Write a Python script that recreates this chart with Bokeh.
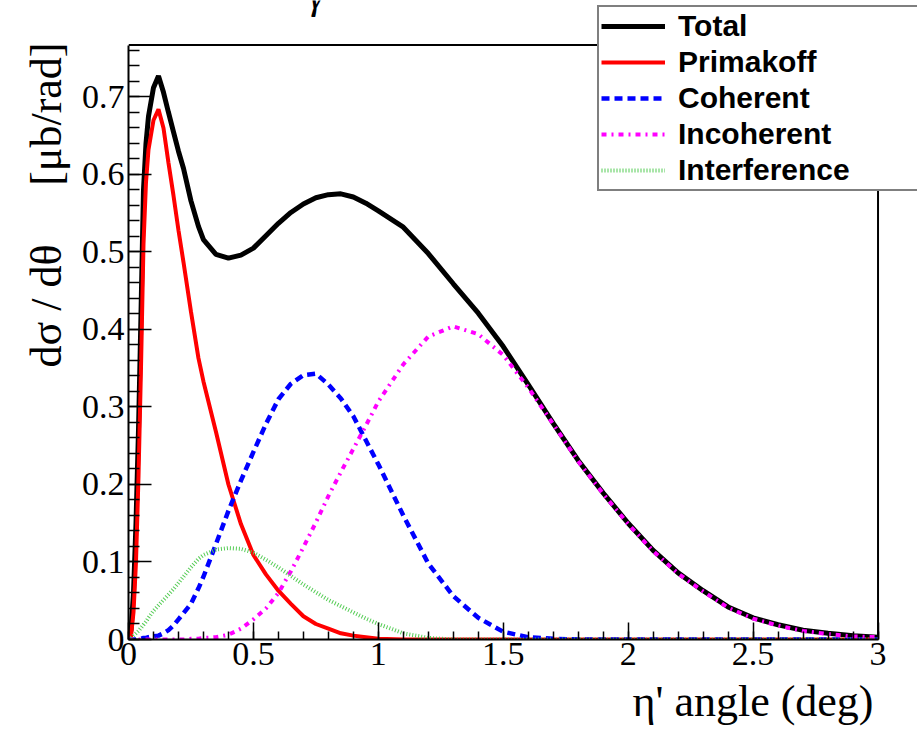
from bokeh.plotting import figure
from bokeh.models import (Range1d, SingleIntervalTicker, CustomJSTickFormatter,
                          Label, Legend, LegendItem, Title)
from bokeh.embed import file_html
from bokeh.resources import INLINE

# ---------------- data ----------------
angle_deg = [0, 0.01, 0.02, 0.03, 0.04, 0.05, 0.06, 0.07, 0.08, 0.10, 0.12, 0.14,
             0.16, 0.18, 0.20, 0.22, 0.25, 0.28, 0.30, 0.35, 0.40, 0.45, 0.50,
             0.55, 0.60, 0.65, 0.70, 0.75, 0.80, 0.85, 0.90, 0.95, 1.00, 1.1,
             1.2, 1.3, 1.4, 1.5, 1.6, 1.7, 1.8, 1.9, 2.0, 2.1, 2.2, 2.3, 2.4,
             2.5, 2.6, 2.7, 2.8, 2.9, 3.0]

total = [0, 0.012, 0.06, 0.15, 0.27, 0.42, 0.58, 0.64, 0.675, 0.712, 0.727, 0.706,
         0.680, 0.655, 0.630, 0.608, 0.566, 0.533, 0.516, 0.497, 0.492, 0.496, 0.505,
         0.521, 0.537, 0.551, 0.562, 0.570, 0.574, 0.575, 0.571, 0.563, 0.553, 0.532,
         0.498, 0.459, 0.421, 0.378, 0.329, 0.279, 0.231, 0.189, 0.150, 0.115, 0.086,
         0.063, 0.042, 0.028, 0.019, 0.012, 0.008, 0.005, 0.003]

primakoff = [0, 0.004, 0.035, 0.10, 0.21, 0.35, 0.51, 0.59, 0.632, 0.670, 0.684, 0.660,
             0.615, 0.573, 0.528, 0.487, 0.423, 0.363, 0.333, 0.268, 0.200, 0.149, 0.109,
             0.084, 0.063, 0.046, 0.030, 0.020, 0.014, 0.008, 0.005, 0.003, 0.001, 0,
             0, 0, 0, 0, 0, 0, 0, 0, 0, 0, 0, 0, 0,
             0, 0, 0, 0, 0, 0]

coherent = [0, 0, 0, 0, 0.001, 0.001, 0.002, 0.002, 0.003, 0.004, 0.005, 0.008,
            0.012, 0.018, 0.026, 0.034, 0.046, 0.066, 0.081, 0.123, 0.166, 0.205, 0.242,
            0.278, 0.310, 0.330, 0.341, 0.343, 0.329, 0.311, 0.288, 0.257, 0.226, 0.160,
            0.098, 0.056, 0.028, 0.010, 0.003, 0.001, 0, 0, 0, 0, 0, 0, 0,
            0, 0, 0, 0, 0, 0]

incoherent = [0, 0, 0, 0, 0, 0, 0, 0, 0, 0, 0, 0,
              0, 0, 0, 0, 0.001, 0.001, 0.002, 0.003, 0.006, 0.014, 0.026,
              0.040, 0.060, 0.088, 0.119, 0.151, 0.185, 0.216, 0.246, 0.276, 0.307, 0.355,
              0.391, 0.404, 0.394, 0.367, 0.325, 0.278, 0.230, 0.188, 0.149, 0.114, 0.085,
              0.062, 0.041, 0.027, 0.018, 0.011, 0.007, 0.004, 0.003]

interference = [0, 0.002, 0.005, 0.008, 0.011, 0.015, 0.019, 0.023, 0.028, 0.037, 0.044, 0.051,
                0.058, 0.065, 0.073, 0.081, 0.093, 0.104, 0.109, 0.116, 0.118, 0.117, 0.112,
                0.103, 0.093, 0.082, 0.071, 0.061, 0.051, 0.043, 0.035, 0.027, 0.020, 0.008,
                0.002, 0, 0, 0, 0, 0, 0, 0, 0, 0, 0, 0, 0,
                0, 0, 0, 0, 0, 0]

series_names = ["Total", "Primakoff", "Coherent", "Incoherent", "Interference"]
x_label = "\u03b7' angle (deg)"
y_label = "d\u03c3 / d\u03b8\u2003\u2004[\u03bcb/rad]"
title_fragment = "\u03b3"

for s in (total, primakoff, coherent, incoherent, interference):
    assert len(s) == len(angle_deg)

# axis extents of the drawn frame
X_MIN, X_MAX = 0, 3
Y_MIN, Y_MAX = 0, 0.767

# ---------------- figure ----------------
SERIF = "Liberation Serif"
p = figure(width=917, height=734, output_backend="svg", toolbar_location=None,
           x_range=Range1d(0, 3.158), y_range=Range1d(0, 0.8245),
           min_border_left=128, min_border_right=0, min_border_top=0,
           min_border_bottom=95)
p.background_fill_color = "white"
p.border_fill_color = "white"
p.outline_line_color = None
p.grid.visible = False

fmt = CustomJSTickFormatter(code="return Number(tick.toFixed(2)).toString();")
p.xaxis.ticker = SingleIntervalTicker(interval=0.5, num_minor_ticks=5)
p.yaxis.ticker = SingleIntervalTicker(interval=0.1, num_minor_ticks=5)
p.xaxis.bounds = (X_MIN, X_MAX)
p.yaxis.bounds = (Y_MIN, Y_MAX)
for ax in (p.xaxis, p.yaxis):
    ax.formatter = fmt
    ax.major_tick_out = 0
    ax.minor_tick_out = 0
    ax.axis_line_color = "black"
    ax.axis_line_width = 2
    ax.major_tick_line_color = "black"
    ax.minor_tick_line_color = "black"
    ax.major_tick_line_width = 1.5
    ax.minor_tick_line_width = 1.5
    ax.major_label_text_font = SERIF
    ax.major_label_text_font_size = "34px"
    ax.major_label_text_color = "black"
p.xaxis.major_tick_in = 17
p.xaxis.minor_tick_in = 8
p.yaxis.major_tick_in = 23
p.yaxis.minor_tick_in = 11
p.xaxis.major_label_standoff = 3
p.yaxis.major_label_standoff = 4

# axis titles, aligned to the end of the drawn frame
p.add_layout(Title(text=x_label, align="right", offset=44, standoff=15,
                   text_font=SERIF, text_font_size="44px",
                   text_font_style="normal", text_color="black"), "below")
p.add_layout(Title(text=y_label, align="right", offset=42, standoff=16,
                   text_font=SERIF, text_font_size="44px",
                   text_font_style="normal", text_color="black"), "left")

# frame top and right edges
p.segment(x0=[X_MIN, X_MAX], y0=[Y_MAX, Y_MIN], x1=[X_MAX, X_MAX], y1=[Y_MAX, Y_MAX],
          line_color="black", line_width=2)

r_tot = p.line(angle_deg, total, line_color="black", line_width=5)
r_pri = p.line(angle_deg, primakoff, line_color="#ff0000", line_width=4)
r_coh = p.line(angle_deg, coherent, line_color="#0000ff", line_width=4.5,
               line_dash="8 5")
r_inc = p.line(angle_deg, incoherent, line_color="#ff00ff", line_width=4,
               line_dash="5 5 2 5")
r_int = p.line(angle_deg, interference, line_color="#55cc55", line_width=4,
               line_dash="1 2")

legend = Legend(items=[LegendItem(label=n, renderers=[r]) for n, r in
                       zip(series_names, [r_tot, r_pri, r_coh, r_inc, r_int])],
                location=(469, 448))
legend.label_text_font = "Liberation Sans"
legend.label_text_font_style = "bold"
legend.label_text_font_size = "30px"
legend.label_text_color = "black"
legend.label_height = 30
legend.glyph_height = 30
legend.glyph_width = 64
legend.label_standoff = 13
legend.label_width = 270
legend.spacing = 2
legend.padding = 2
legend.margin = 0
legend.border_line_color = "black"
legend.border_line_width = 2
legend.background_fill_color = "white"
legend.background_fill_alpha = 1
p.add_layout(legend, "center")

p.add_layout(Label(x=0.753, y=Y_MAX, text=title_fragment, text_align="center",
                   text_baseline="alphabetic", y_offset=51,
                   text_font=SERIF, text_font_style="italic",
                   text_font_size="40px", text_color="black"))

open("out.html", "w").write(file_html(p, INLINE))
